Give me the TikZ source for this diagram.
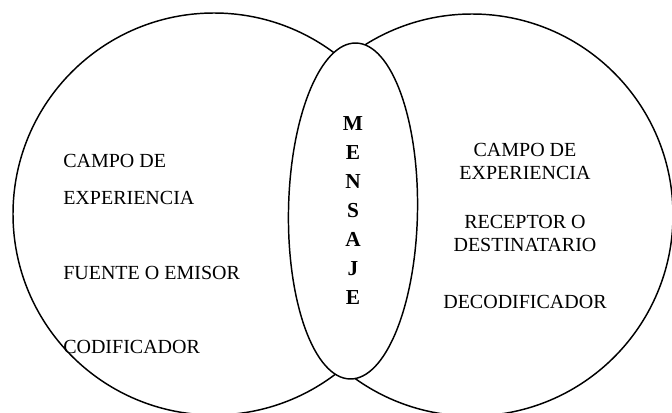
\documentclass[tikz,border=0pt]{standalone}
\usepackage{fontspec}
\setmainfont{Liberation Serif}
\usetikzlibrary{shapes.geometric}

\tikzset{
  campo/.style={circle, draw, fill=white, line width=1.1pt, minimum size=301.5pt, inner sep=0pt},
  canal/.style={ellipse, draw, fill=white, line width=1.1pt, minimum width=96.75pt, minimum height=252pt, inner sep=0pt, rotate=-1},
  rotulo/.style={font=\fontsize{15}{17.25}\selectfont, inner sep=0pt},
  letras/.style={font=\bfseries\fontsize{16}{21.75}\selectfont, inner sep=0pt, align=center}
}

\begin{document}
\begin{tikzpicture}[x=0.75pt, y=0.75pt]
\useasboundingbox (0,0) rectangle (672,412);

\node [campo] (receptor) at (472,197) {};
\node [campo] (emisor) at (214,198) {};
\node [canal] (mensaje) at (353,201) {};

\node [letras] (palabra) at (mensaje.center) {M\\E\\N\\S\\A\\J\\E};

\node [rotulo, anchor=west] (campoA) at (63,251) {CAMPO DE};
\node [rotulo, anchor=west] (expA) at (63,214) {EXPERIENCIA};
\node [rotulo, anchor=west] (fuente) at (63,139) {FUENTE O EMISOR};
\node [rotulo, anchor=west] (codif) at (63,65) {CODIFICADOR};

\node [rotulo, align=center] (campoB) at (525,250.5) {CAMPO DE\\EXPERIENCIA};
\node [rotulo, align=center] (destino) at (525,178.5) {RECEPTOR O\\DESTINATARIO};
\node [rotulo] (decodif) at (525,110) {DECODIFICADOR};

\end{tikzpicture}
\end{document}
